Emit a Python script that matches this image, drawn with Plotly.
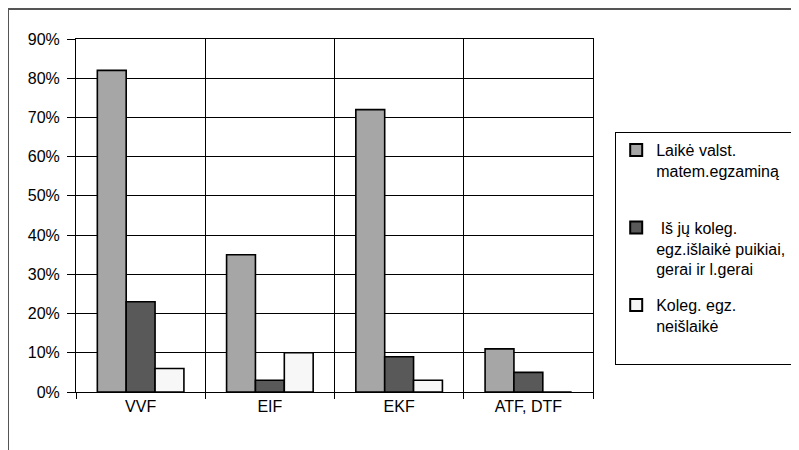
import plotly.graph_objects as go

categories = ["VVF", "EIF", "EKF", "ATF, DTF"]
series_names = [
    "Laikė valst.<br>matem.egzaminą<br> ",
    " Iš jų koleg.<br>egz.išlaikė puikiai,<br>gerai ir l.gerai",
    "Koleg. egz.<br>neišlaikė<br> ",
]
laike = [0.82, 0.35, 0.72, 0.11]
islaike = [0.23, 0.03, 0.09, 0.05]
neislaike = [0.06, 0.10, 0.03, 0.0]
colors = ["#a6a6a6", "#595959", "#f7f7f7"]
y_ticks = [i / 10 for i in range(10)]

# page has an 8px body margin; work in page pixel coordinates
OFF = 8
W, H = 799 - OFF, 450 - OFF
plot_l, plot_r, plot_t, plot_b = 76, 593, 39, 392
L, R, T, B = plot_l - OFF, W - (plot_r - OFF), plot_t - OFF, H - (plot_b - OFF)
pw, ph = W - L - R, H - T - B

fig = go.Figure()
for i, (name, vals, col) in enumerate(zip(series_names, [laike, islaike, neislaike], colors)):
    fig.add_trace(go.Bar(x=categories, y=vals, name=name, legendgroup=f"g{i}",
                         marker=dict(color=col, line=dict(color="#000000", width=1.6))))

def px_x(p):
    return (p - plot_l) / pw

def px_y(p):
    return (plot_b - p) / ph

fig.update_layout(
    width=W, height=H,
    margin=dict(l=L, r=R, t=T, b=B, autoexpand=False),
    paper_bgcolor="white", plot_bgcolor="white",
    barmode="group", bargap=0.33, bargroupgap=0,
    font=dict(family="Liberation Sans, Arial", size=16, color="#000000"),
    showlegend=True,
    legend=dict(x=px_x(615), y=px_y(132), xanchor="left", yanchor="top",
                bordercolor="#000000", borderwidth=1.2, bgcolor="white",
                valign="top", font=dict(size=16), itemsizing="constant",
                tracegroupgap=12),
    xaxis=dict(type="category", tickson="boundaries", showgrid=True,
               gridcolor="#000000", gridwidth=1, showline=True, linecolor="#000000",
               linewidth=1, mirror=True, ticks="outside", ticklen=6,
               tickcolor="#000000", tickfont=dict(size=16), automargin=False),
    yaxis=dict(range=[0, 0.9], tickvals=y_ticks + [0.9], tickformat=".0%",
               showgrid=True, gridcolor="#000000", gridwidth=1, showline=True,
               linecolor="#000000", linewidth=1, mirror=True, ticks="outside",
               ticklen=8, tickcolor="#000000", zeroline=False,
               ticklabelstandoff=4,
               tickfont=dict(size=16), automargin=False),
    shapes=[
        dict(type="line", xref="paper", yref="paper", x0=px_x(8), x1=px_x(799),
             y0=px_y(9), y1=px_y(9), line=dict(color="#555555", width=2)),
        dict(type="line", xref="paper", yref="paper", x0=px_x(8), x1=px_x(8),
             y0=px_y(9), y1=px_y(452), line=dict(color="#555555", width=2)),
    ],
)

fig.write_html("out.html")
